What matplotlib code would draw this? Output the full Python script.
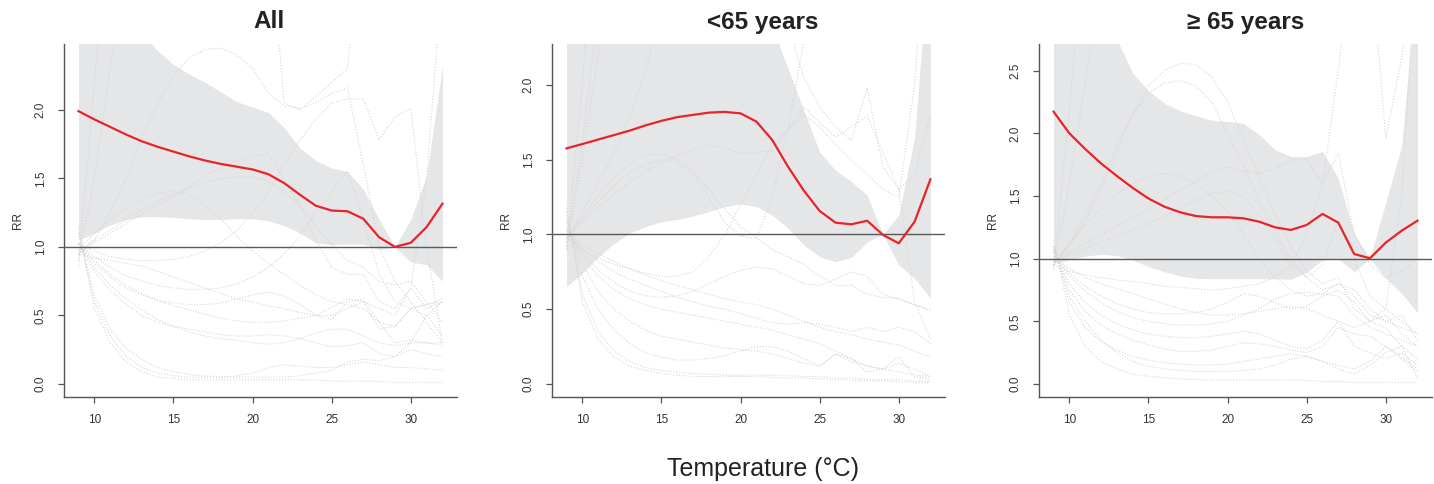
import numpy as np
import matplotlib.pyplot as plt

plt.rcParams['font.family'] = ['Liberation Sans', 'DejaVu Sans']

# Temperature grid (integer degrees)
temp = np.arange(9, 33)

# ---- All ----
all_rr = [1.99, 1.93, 1.875, 1.82, 1.77, 1.73, 1.695, 1.66, 1.63, 1.605, 1.585, 1.565,
          1.53, 1.465, 1.38, 1.30, 1.265, 1.26, 1.205, 1.07, 1.0, 1.03, 1.145, 1.315]
all_hi = [3.5, 3.2, 2.9, 2.7, 2.56, 2.43, 2.33, 2.26, 2.2, 2.13, 2.06, 2.02,
          1.98, 1.87, 1.72, 1.63, 1.575, 1.55, 1.42, 1.2, 1.0, 1.2, 1.52, 2.32]
all_lo = [1.05, 1.1, 1.16, 1.2, 1.22, 1.22, 1.215, 1.205, 1.2, 1.2, 1.205, 1.205,
          1.19, 1.155, 1.1, 1.03, 1.015, 1.02, 1.02, 0.98, 1.0, 0.89, 0.87, 0.75]
all_cities = [
    [0.85, 2.2, 3.6, 5, 5, 5, 5, 5, 5, 5, 5, 5, 5, 5, 5, 5, 5, 5, 5, 5, 5, 5, 5, 5],
    [0.9, 1.5, 2.3, 3.2, 4, 4.5, 4.5, 4.5, 4.5, 4.5, 4.5, 4.5, 3.4, 2.05, 2.0, 2.1, 2.2, 2.3, 3.5, 4.5, 4.5, 4.5, 4.5, 4.5],
    [0.95, 1.05, 1.25, 1.5, 1.8, 2.05, 2.25, 2.38, 2.44, 2.45, 2.4, 2.3, 2.12, 2.03, 2.01, 2.05, 2.12, 2.16, 1.6, 1.0, 0.75, 0.6, 0.45, 0.3],
    [0.95, 1.03, 1.1, 1.17, 1.24, 1.3, 1.36, 1.44, 1.52, 1.58, 1.63, 1.66, 1.68, 1.5, 1.3, 1.05, 0.85, 0.8, 0.8, 0.6, 0.55, 0.7, 0.55, 0.6],
    [0.97, 1.05, 1.12, 1.2, 1.27, 1.33, 1.38, 1.43, 1.47, 1.5, 1.51, 1.51, 1.48, 1.4, 1.3, 1.15, 1.02, 0.9, 0.85, 0.75, 0.72, 0.75, 0.6, 0.45],
    [0.98, 1.1, 1.2, 1.28, 1.35, 1.39, 1.41, 1.38, 1.3, 1.2, 1.08, 0.97, 0.88, 0.8, 0.72, 0.65, 0.6, 0.58, 0.55, 0.45, 0.42, 0.55, 0.58, 0.6],
    [1.02, 0.97, 0.93, 0.91, 0.9, 0.9, 0.91, 0.93, 0.97, 1.03, 1.12, 1.25, 1.4, 1.6, 1.78, 1.93, 2.05, 2.08, 2.08, 1.78, 1.95, 2.01, 1.0, 0.3],
    [1.03, 0.93, 0.85, 0.79, 0.75, 0.72, 0.7, 0.69, 0.69, 0.7, 0.73, 0.78, 0.85, 0.95, 1.08, 1.25, 1.4, 1.55, 1.2, 0.8, 0.6, 0.55, 0.58, 0.62],
    [1.03, 0.9, 0.8, 0.72, 0.66, 0.61, 0.57, 0.54, 0.51, 0.48, 0.46, 0.45, 0.45, 0.46, 0.48, 0.5, 0.56, 0.62, 0.6, 0.4, 0.42, 0.55, 0.5, 0.35],
    [1.02, 0.88, 0.78, 0.7, 0.65, 0.61, 0.59, 0.58, 0.58, 0.59, 0.62, 0.65, 0.67, 0.64, 0.58, 0.5, 0.47, 0.6, 0.62, 0.45, 0.3, 0.32, 0.3, 0.28],
    [1.02, 0.85, 0.72, 0.62, 0.54, 0.47, 0.42, 0.38, 0.35, 0.33, 0.32, 0.3, 0.29, 0.3, 0.33, 0.37, 0.4, 0.4, 0.35, 0.3, 0.28, 0.3, 0.3, 0.3],
    [1.02, 0.82, 0.68, 0.58, 0.5, 0.45, 0.42, 0.4, 0.38, 0.36, 0.35, 0.35, 0.36, 0.35, 0.33, 0.3, 0.27, 0.28, 0.3, 0.22, 0.2, 0.25, 0.22, 0.2],
    [1.1, 0.6, 0.35, 0.2, 0.12, 0.08, 0.06, 0.05, 0.05, 0.05, 0.06, 0.08, 0.12, 0.14, 0.13, 0.12, 0.12, 0.14, 0.16, 0.14, 0.12, 0.12, 0.11, 0.1],
    [1.15, 0.55, 0.3, 0.16, 0.09, 0.05, 0.04, 0.03, 0.03, 0.03, 0.03, 0.03, 0.03, 0.03, 0.03, 0.03, 0.02, 0.02, 0.02, 0.02, 0.01, 0.01, 0.01, 0.01],
    [1.1, 0.65, 0.4, 0.26, 0.18, 0.12, 0.09, 0.07, 0.06, 0.05, 0.05, 0.05, 0.05, 0.05, 0.06, 0.08, 0.1, 0.16, 0.18, 0.17, 0.2, 0.3, 0.5, 0.6],
    [0.95, 0.92, 0.9, 0.88, 0.86, 0.82, 0.78, 0.74, 0.7, 0.66, 0.62, 0.6, 0.57, 0.55, 0.52, 0.5, 0.5, 0.55, 0.6, 0.55, 0.5, 0.7, 1.5, 3.0],
]

# ---- <65 years ----
young_rr = [1.576, 1.605, 1.635, 1.665, 1.695, 1.73, 1.76, 1.785, 1.80, 1.815, 1.82, 1.81,
            1.755, 1.632, 1.453, 1.293, 1.157, 1.079, 1.068, 1.092, 0.997, 0.941, 1.086, 1.369]
young_hi = [3.0, 3.0, 3.0, 3.0, 3.0, 3.0, 3.0, 3.0, 3.0, 3.0, 3.0, 3.0,
            3.0, 2.39, 2.11, 1.83, 1.55, 1.43, 1.353, 1.264, 1.0, 1.13, 1.65, 3.0]
young_lo = [0.651, 0.74, 0.85, 0.94, 1.01, 1.052, 1.086, 1.10, 1.124, 1.153, 1.186, 1.204,
            1.186, 1.13, 1.041, 0.93, 0.851, 0.818, 0.847, 0.952, 1.0, 0.796, 0.707, 0.573]
young_cities = [
    [0.9, 2.0, 3.5, 5, 5, 5, 5, 5, 5, 5, 5, 5, 5, 5, 5, 5, 5, 5, 5, 5, 5, 5, 5, 5],
    [0.92, 1.5, 2.2, 3.0, 4, 4, 4, 4, 4, 4, 4, 4, 4, 4, 4, 4, 4, 4, 4, 4, 4, 4, 4, 4],
    [0.95, 1.15, 1.35, 1.55, 1.8, 2.1, 2.5, 3, 3.5, 3.5, 3.5, 3.5, 3.5, 3.5, 3.5, 3.5, 3.5, 3.5, 3.5, 3.5, 3.5, 3.5, 3.5, 3.5],
    [0.97, 1.08, 1.18, 1.27, 1.35, 1.42, 1.48, 1.53, 1.57, 1.6, 1.58, 1.54, 1.55, 1.56, 1.7, 1.85, 1.75, 1.65, 1.72, 1.79, 1.55, 1.3, 1.4, 1.8],
    [0.98, 1.12, 1.26, 1.38, 1.47, 1.53, 1.54, 1.5, 1.42, 1.3, 1.17, 1.05, 0.98, 0.9, 0.85, 0.8, 0.72, 0.66, 0.66, 0.6, 0.58, 0.57, 0.53, 0.5],
    [0.97, 1.1, 1.22, 1.33, 1.42, 1.47, 1.5, 1.48, 1.4, 1.25, 1.08, 0.99, 0.97, 1.25, 1.7, 2.3, 3, 3.5, 3.5, 3.5, 3.5, 3.5, 3.5, 3.5],
    [0.9, 1.6, 2.5, 3.5, 4, 4, 4, 4, 4, 4, 4, 4, 4, 3.2, 2.4, 2.05, 1.85, 1.72, 1.63, 1.98, 1.45, 1.3, 0.55, 0.3],
    [1.03, 0.93, 0.87, 0.82, 0.77, 0.73, 0.69, 0.66, 0.63, 0.6, 0.57, 0.55, 0.53, 0.5, 0.46, 0.42, 0.38, 0.35, 0.33, 0.3, 0.28, 0.26, 0.22, 0.18],
    [1.03, 0.88, 0.76, 0.68, 0.62, 0.59, 0.58, 0.59, 0.62, 0.67, 0.72, 0.76, 0.78, 0.77, 0.72, 0.67, 0.66, 0.7, 0.75, 0.72, 0.6, 0.57, 0.53, 0.49],
    [1.03, 0.9, 0.82, 0.75, 0.7, 0.66, 0.62, 0.58, 0.55, 0.52, 0.5, 0.47, 0.44, 0.41, 0.4, 0.41, 0.4, 0.38, 0.35, 0.38, 0.35, 0.38, 0.35, 0.27],
    [1.1, 0.72, 0.5, 0.36, 0.27, 0.21, 0.18, 0.16, 0.16, 0.17, 0.19, 0.22, 0.25, 0.25, 0.22, 0.17, 0.12, 0.2, 0.17, 0.08, 0.1, 0.14, 0.1, 0.05],
    [1.15, 0.6, 0.35, 0.22, 0.15, 0.11, 0.09, 0.08, 0.07, 0.065, 0.06, 0.06, 0.06, 0.06, 0.055, 0.05, 0.05, 0.04, 0.04, 0.03, 0.03, 0.03, 0.02, 0.02],
    [1.18, 0.55, 0.3, 0.18, 0.12, 0.09, 0.07, 0.06, 0.05, 0.05, 0.05, 0.05, 0.05, 0.045, 0.04, 0.04, 0.035, 0.03, 0.025, 0.02, 0.02, 0.015, 0.01, 0.01],
    [1.05, 0.85, 0.72, 0.63, 0.57, 0.53, 0.5, 0.48, 0.46, 0.44, 0.42, 0.4, 0.38, 0.36, 0.33, 0.3, 0.27, 0.22, 0.17, 0.12, 0.1, 0.08, 0.06, 0.05],
    [1.08, 0.8, 0.62, 0.5, 0.42, 0.36, 0.32, 0.3, 0.28, 0.26, 0.24, 0.23, 0.22, 0.2, 0.17, 0.14, 0.12, 0.2, 0.15, 0.12, 0.1, 0.18, 0.05, 0.03],
    [0.98, 0.9, 0.84, 0.8, 0.77, 0.74, 0.72, 0.72, 0.75, 0.85, 1.0, 1.2, 1.4, 1.6, 1.7, 1.8, 1.72, 1.6, 1.5, 1.4, 1.3, 1.25, 2.0, 3.5],
]

# ---- >=65 years ----
old_rr = [2.173, 2.0, 1.875, 1.76, 1.66, 1.565, 1.48, 1.415, 1.37, 1.34, 1.33, 1.33,
          1.322, 1.295, 1.25, 1.229, 1.269, 1.357, 1.287, 1.037, 1.003, 1.128, 1.223, 1.303]
old_hi = [3.3, 3.3, 3.3, 3.3, 2.75, 2.48, 2.34, 2.24, 2.18, 2.14, 2.105, 2.095,
          2.08, 1.99, 1.87, 1.815, 1.815, 1.855, 1.64, 1.2, 1.0, 1.45, 1.9, 3.3]
old_lo = [0.963, 0.99, 1.02, 1.035, 1.025, 0.99, 0.936, 0.896, 0.862, 0.843, 0.84, 0.84,
          0.84, 0.84, 0.84, 0.835, 0.89, 0.99, 1.0, 0.896, 1.0, 0.843, 0.724, 0.569]
old_cities = [
    [0.9, 2.2, 3.6, 5, 5, 5, 5, 5, 5, 5, 5, 5, 5, 5, 5, 5, 5, 5, 5, 5, 5, 5, 5, 5],
    [0.92, 1.6, 2.4, 3.3, 4, 4, 4, 4, 4, 4, 4, 4, 4, 4, 4, 4, 4, 4, 4, 4, 4, 4, 4, 4],
    [0.95, 1.1, 1.3, 1.55, 1.85, 2.15, 2.38, 2.5, 2.56, 2.55, 2.45, 2.25, 1.95, 1.65, 1.35, 1.1, 0.9, 0.8, 0.85, 0.6, 0.5, 0.55, 0.4, 0.3],
    [0.95, 1.12, 1.35, 1.6, 1.9, 2.15, 2.32, 2.4, 2.42, 2.38, 2.25, 2.0, 1.75, 1.45, 1.2, 1.0, 0.85, 0.75, 0.8, 0.7, 0.55, 0.5, 0.45, 0.4],
    [0.97, 1.12, 1.27, 1.4, 1.52, 1.6, 1.66, 1.68, 1.66, 1.6, 1.5, 1.38, 1.2, 1.0, 0.85, 0.75, 0.7, 0.72, 0.8, 0.75, 0.6, 0.5, 0.55, 0.35],
    [0.98, 1.05, 1.12, 1.19, 1.26, 1.33, 1.4, 1.47, 1.55, 1.62, 1.69, 1.73, 1.7, 1.68, 1.72, 1.79, 1.79, 1.6, 1.84, 1.2, 0.95, 0.85, 0.9, 1.0],
    [0.98, 1.03, 1.08, 1.13, 1.18, 1.23, 1.28, 1.34, 1.4, 1.47, 1.52, 1.54, 1.5, 1.35, 1.15, 0.95, 0.85, 0.95, 1.3, 1.0, 0.7, 0.6, 0.5, 0.4],
    [0.95, 0.9, 0.87, 0.85, 0.83, 0.82, 0.8, 0.78, 0.77, 0.76, 0.75, 0.76, 0.78, 0.8, 0.85, 0.95, 1.2, 1.6, 2.5, 3.5, 3.5, 1.96, 2.6, 3.5],
    [1.05, 0.88, 0.78, 0.7, 0.64, 0.6, 0.57, 0.56, 0.56, 0.57, 0.6, 0.65, 0.72, 0.7, 0.65, 0.6, 0.62, 0.7, 0.75, 0.65, 0.5, 0.45, 0.3, 0.2],
    [1.05, 0.86, 0.74, 0.65, 0.58, 0.53, 0.5, 0.48, 0.47, 0.47, 0.48, 0.5, 0.55, 0.6, 0.68, 0.72, 0.73, 0.72, 0.7, 0.55, 0.45, 0.4, 0.35, 0.3],
    [1.07, 0.8, 0.65, 0.55, 0.48, 0.43, 0.4, 0.38, 0.37, 0.37, 0.38, 0.4, 0.42, 0.4, 0.35, 0.3, 0.28, 0.35, 0.5, 0.3, 0.25, 0.2, 0.25, 0.15],
    [1.08, 0.75, 0.58, 0.47, 0.4, 0.35, 0.31, 0.28, 0.26, 0.26, 0.27, 0.3, 0.33, 0.32, 0.3, 0.27, 0.25, 0.3, 0.45, 0.4, 0.38, 0.3, 0.22, 0.12],
    [1.1, 0.65, 0.45, 0.34, 0.27, 0.22, 0.19, 0.17, 0.16, 0.15, 0.15, 0.16, 0.18, 0.2, 0.22, 0.24, 0.22, 0.18, 0.15, 0.12, 0.18, 0.3, 0.2, 0.1],
    [1.15, 0.55, 0.3, 0.18, 0.12, 0.08, 0.06, 0.05, 0.04, 0.035, 0.03, 0.03, 0.03, 0.03, 0.03, 0.03, 0.03, 0.02, 0.02, 0.01, 0.01, 0.01, 0.01, 0.01],
    [1.1, 0.7, 0.5, 0.35, 0.25, 0.18, 0.14, 0.12, 0.11, 0.1, 0.1, 0.1, 0.11, 0.12, 0.15, 0.2, 0.22, 0.18, 0.12, 0.08, 0.15, 0.25, 0.3, 0.05],
    [1.02, 0.92, 0.85, 0.8, 0.76, 0.72, 0.68, 0.64, 0.6, 0.57, 0.55, 0.55, 0.56, 0.58, 0.6, 0.62, 0.6, 0.55, 0.5, 0.45, 0.5, 0.6, 1.5, 3.5],
]

titles = ["All", "<65 years", "\u2265 65 years"]
panels = [
    (all_rr, all_hi, all_lo, all_cities, (-0.095, 2.48), [0, 0.5, 1.0, 1.5, 2.0]),
    (young_rr, young_hi, young_lo, young_cities, (-0.087, 2.274), [0, 0.5, 1.0, 1.5, 2.0]),
    (old_rr, old_hi, old_lo, old_cities, (-0.104, 2.713), [0, 0.5, 1.0, 1.5, 2.0, 2.5]),
]
lefts = [64, 552, 1039]
title_x = [269, 763, 1246]

W, H = 1434, 484
fig = plt.figure(figsize=(W / 100, H / 100), dpi=100)

for i, (rr, hi, lo, cities, ylim, yticks) in enumerate(panels):
    ax = fig.add_axes([lefts[i] / W, 1 - 397 / H, 393 / W, 353 / H])
    ax.fill_between(temp, lo, hi, color='#e5e6e8', linewidth=0, zorder=1)
    for c in cities:
        ax.plot(temp, c, color='#d6d6d6', lw=0.8, linestyle=(0, (1, 1.6)), zorder=2)
    ax.axhline(1.0, color='#5a5a5a', lw=1.0, zorder=3)
    ax.plot(temp, rr, color='#e8232b', lw=1.6, zorder=4)

    ax.set_xlim(8.08, 32.92)
    ax.set_ylim(*ylim)
    ax.set_xticks([10, 15, 20, 25, 30])
    ax.set_yticks(yticks)
    ax.set_yticklabels([f"{t:.1f}" for t in yticks], rotation=90, va='center')
    for s in ['top', 'right']:
        ax.spines[s].set_visible(False)
    for s in ['left', 'bottom']:
        ax.spines[s].set_color('#555555')
        ax.spines[s].set_linewidth(1.0)
    ax.tick_params(axis='both', direction='out', length=4.5, width=0.9,
                   color='#555555', labelsize=8.5, labelcolor='#333333')
    ax.tick_params(axis='x', pad=8)
    ax.tick_params(axis='y', pad=8)
    ax.set_ylabel("RR", fontsize=8.5, color='#333333', labelpad=8)
    fig.text(title_x[i] / W, 1 - 22 / H, titles[i], fontsize=17.5, fontweight='bold',
             ha='center', va='center', color='#222222')

fig.text(763 / W, 1 - 469 / H, "Temperature (\u00b0C)", fontsize=18, ha='center',
         va='center', color='#222222')

fig.savefig("out.png", dpi=100)
